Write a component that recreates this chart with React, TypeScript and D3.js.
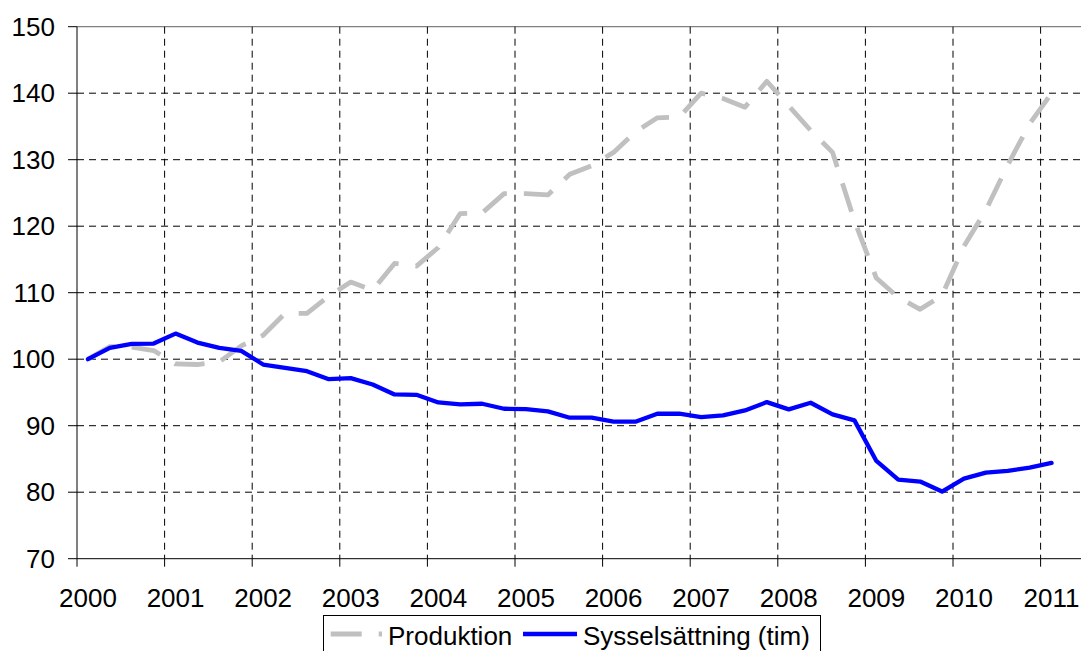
import React from "react";
import * as d3 from "d3";

const years = ["2000","2001","2002","2003","2004","2005","2006","2007","2008","2009","2010","2011"];
const quarters = ["K1","K2","K3","K4"];
// 2000K1 .. 2011K2 (last category empty)
const categories: string[] = years.flatMap((y) => quarters.map((q) => y + q)).slice(0, 46);

const produktion = [
  100, 101.9, 101.8, 101.3, 99.3, 99.2, 99.6, 102.0, 103.6, 106.9, 106.9, 109.5,
  111.6, 110.4, 114.4, 114.0, 116.8, 121.9, 122.0, 124.9, 124.9, 124.7, 127.8, 129.1,
  131.1, 134.2, 136.3, 136.4, 140.0, 139.2, 137.9, 141.8, 138.1, 134.4, 131.1, 120.8,
  112.2, 109.3, 107.5, 109.6, 117.0, 122.4, 129.2, 135.4, 140.0,
];
const sysselsattning = [
  100, 101.7, 102.3, 102.35, 103.85, 102.5, 101.7, 101.25, 99.2, 98.7, 98.2, 97.0,
  97.15, 96.2, 94.7, 94.65, 93.5, 93.2, 93.3, 92.55, 92.5, 92.15, 91.2, 91.2,
  90.6, 90.6, 91.8, 91.8, 91.3, 91.55, 92.3, 93.55, 92.45, 93.45, 91.7, 90.8,
  84.7, 81.9, 81.6, 80.1, 82.05, 82.95, 83.2, 83.7, 84.4,
];
const yTicks = [70, 80, 90, 100, 110, 120, 130, 140, 150];
const seriesNames = ["Produktion", "Sysselsättning (tim)"];

const W = 1081;
const H = 651;
const FONT = "'Liberation Sans', Arial, Helvetica, sans-serif";

export default function App() {
  const left = 77;
  const top = 26.7;
  const bottom = 558.7;
  const x = d3.scaleBand<string>().domain(categories).range([left, left + 21.9 * categories.length]).paddingInner(0).paddingOuter(0);
  const bw = x.bandwidth();
  const y = d3.scaleLinear().domain([70, 150]).range([bottom, top]);
  const cx = (i: number) => (x(categories[i]) as number) + bw / 2;

  const line = d3
    .line<number>()
    .x((_, i) => cx(i))
    .y((d) => y(d));

  const yearPos = years.map((yr) => x(yr + "K1") as number);

  return (
    <svg
      width={W}
      height={H}
      style={{ position: "absolute", left: 0, top: 0, background: "#fff" }}
      fontFamily={FONT}
    >
      <rect x={0} y={0} width={W} height={H} fill="#fff" />
      {/* horizontal gridlines */}
      {yTicks.filter((t) => t > 70 && t < 150).map((t) => (
        <line key={"hg" + t} x1={left} x2={W} y1={y(t)} y2={y(t)} stroke="#000" strokeWidth={1} strokeDasharray="7,5" />
      ))}
      {/* top border */}
      <line x1={left} x2={W} y1={y(150)} y2={y(150)} stroke="#808080" strokeWidth={1.3} />
      {/* vertical gridlines */}
      {yearPos.slice(1).map((px, i) => (
        <line key={"vg" + i} x1={px} x2={px} y1={top} y2={bottom} stroke="#000" strokeWidth={1} strokeDasharray="7,5" />
      ))}
      {/* axes */}
      <line x1={left} x2={left} y1={top} y2={bottom} stroke="#000" strokeWidth={1} />
      <line x1={left} x2={W} y1={bottom} y2={bottom} stroke="#000" strokeWidth={1} />
      {yTicks.map((t) => (
        <g key={"yt" + t}>
          <line x1={left - 9} x2={left} y1={y(t)} y2={y(t)} stroke="#000" strokeWidth={1} />
          <text x={55} y={y(t)} dy="0.35em" textAnchor="end" fontSize={26} fill="#000">
            {t}
          </text>
        </g>
      ))}
      {yearPos.map((px, i) => (
        <g key={"xt" + i}>
          <line x1={px} x2={px} y1={bottom} y2={bottom + 8} stroke="#000" strokeWidth={1} />
          <text x={px + bw / 2} y={606.5} textAnchor="middle" fontSize={26} fill="#000">
            {years[i]}
          </text>
        </g>
      ))}
      {/* series */}
      <path d={line(produktion) || ""} fill="none" stroke="#C0C0C0" strokeWidth={4.8} strokeDasharray="30,17" strokeLinejoin="round" />
      <path d={line(sysselsattning) || ""} fill="none" stroke="#0000FF" strokeWidth={4.3} strokeLinejoin="round" strokeLinecap="round" />
      {/* legend */}
      <rect x={323.5} y={615.5} width={497} height={50} fill="#fff" stroke="#000" strokeWidth={1} />
      <line x1={330.7} x2={382} y1={634} y2={634} stroke="#C0C0C0" strokeWidth={4.8} strokeDasharray="31,17" />
      <text x={388} y={645} fontSize={26} fill="#000">{seriesNames[0]}</text>
      <line x1={523} x2={577} y1={634} y2={634} stroke="#0000FF" strokeWidth={4.3} />
      <text x={583} y={645} fontSize={26} fill="#000">{seriesNames[1]}</text>
    </svg>
  );
}
